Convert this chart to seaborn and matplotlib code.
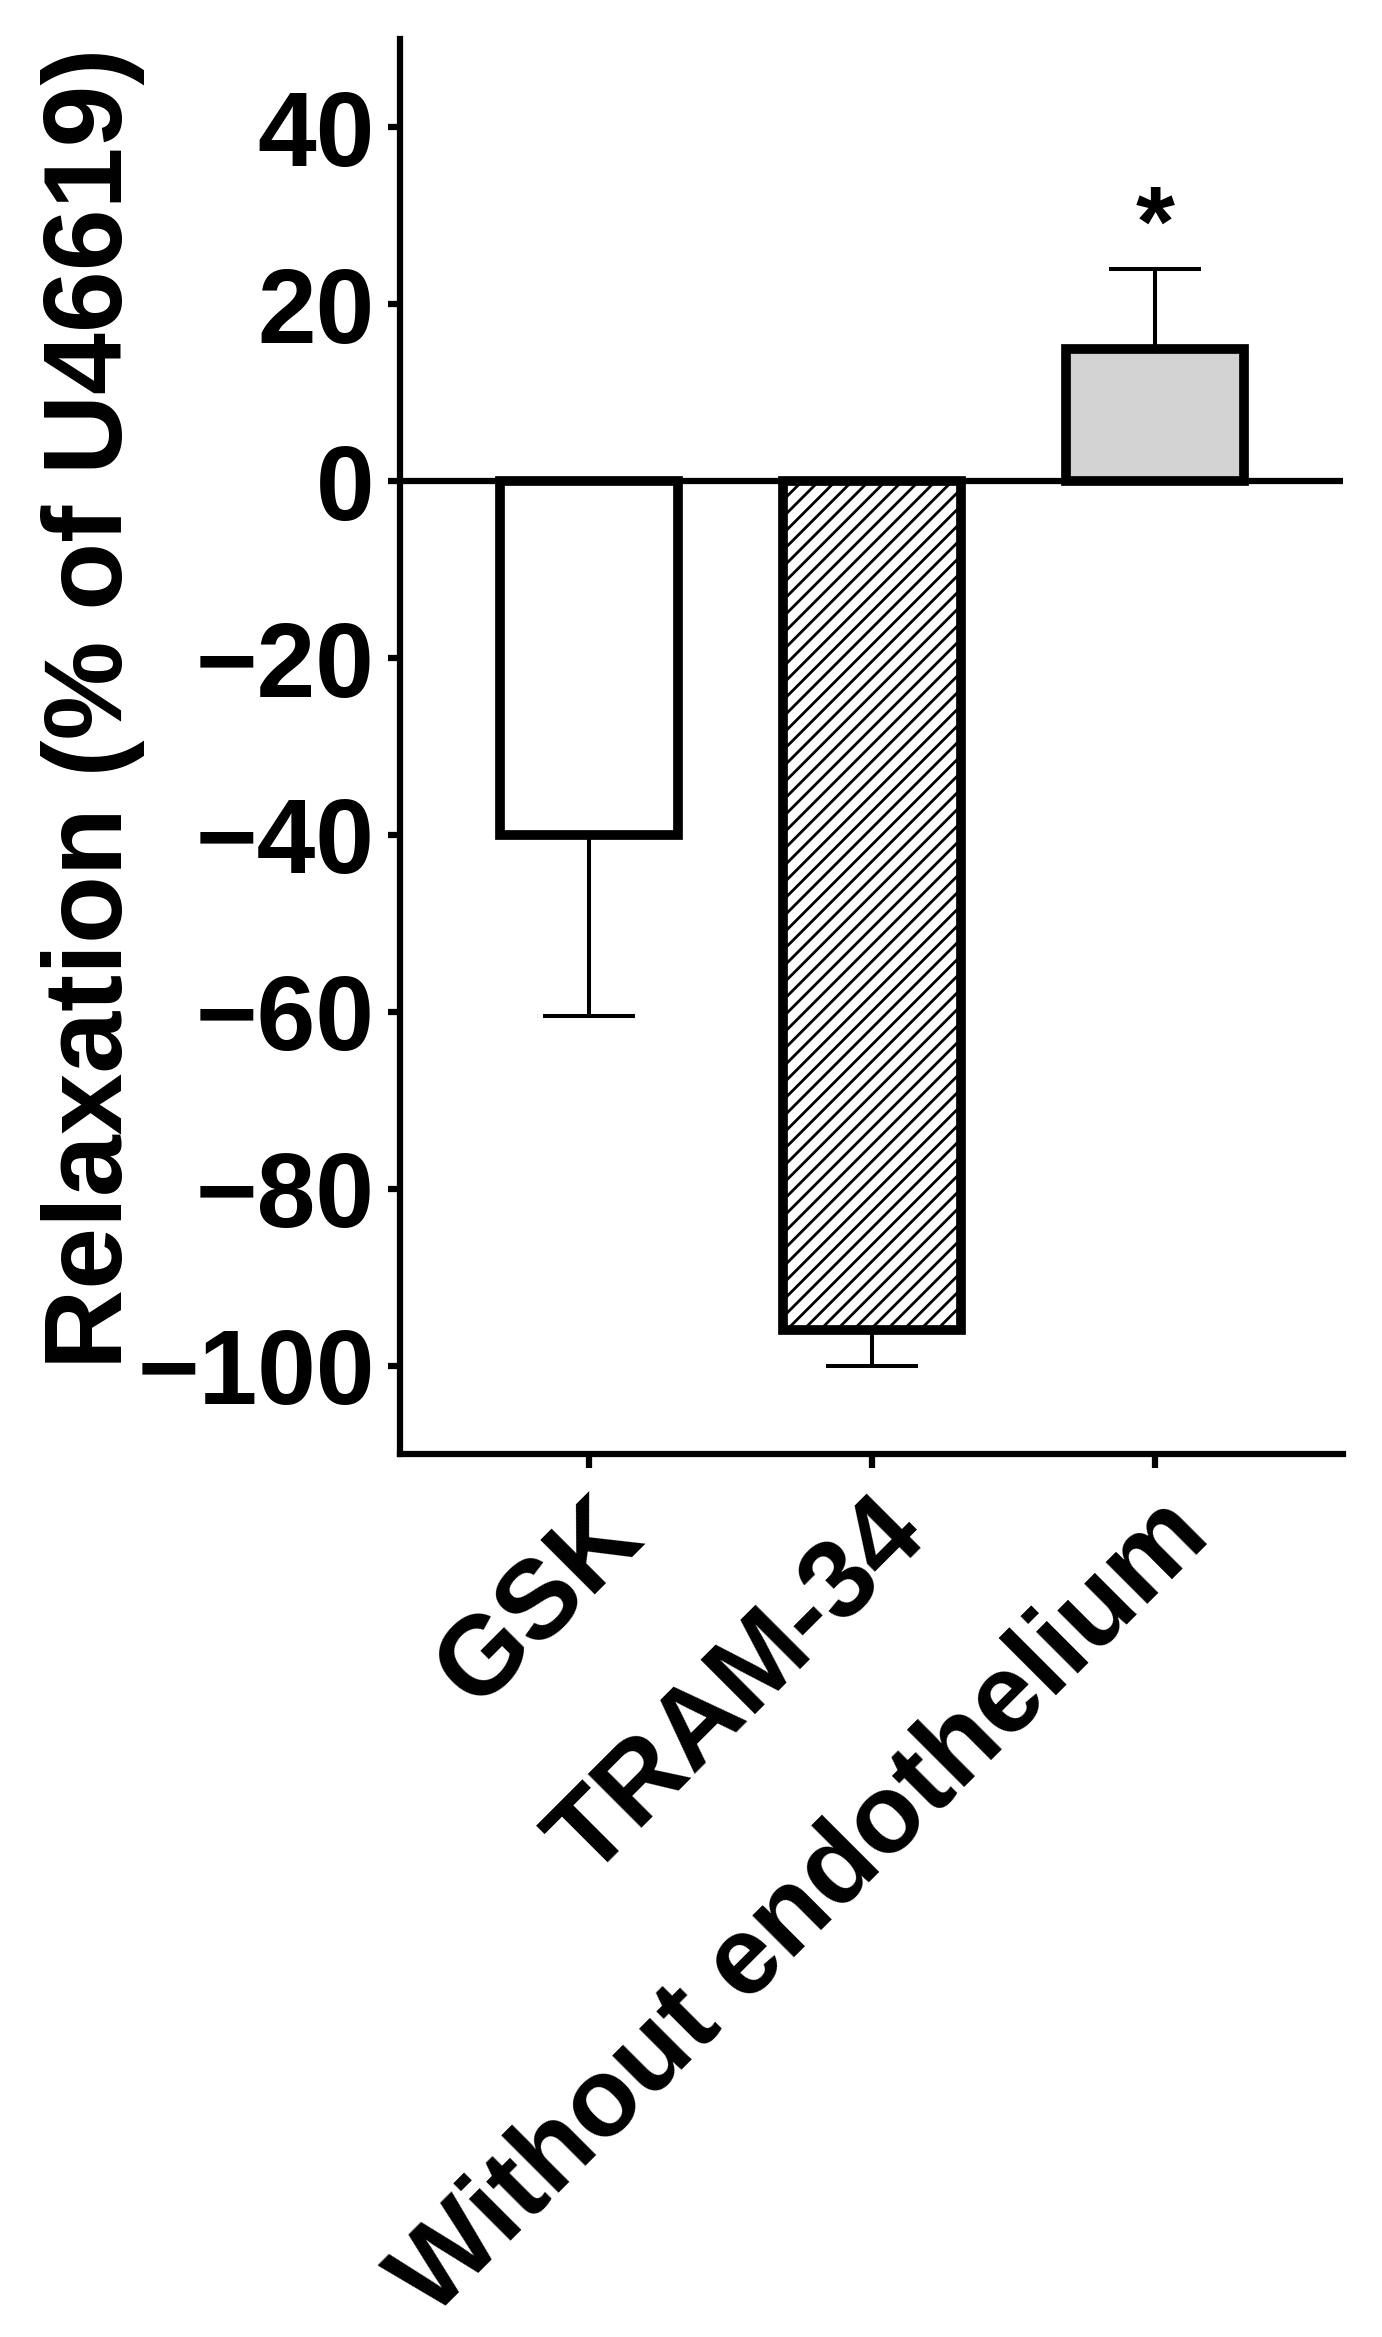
import matplotlib
import numpy as np
import pandas as pd
import seaborn as sns
from matplotlib import pyplot as plt

matplotlib.use("Agg")

groups = ["GSK", "TRAM-34", "Without endothelium"]
means = [-40, -96, 15]
sem = [20.5, 4, 9]
fills = ["white", "white", "#d3d3d3"]
hatches = ["", "//", ""]
yticks = [-100, -80, -60, -40, -20, 0, 20, 40]

sns.set_theme(style="ticks")
plt.rcParams["font.family"] = ["Liberation Sans", "DejaVu Sans"]
plt.rcParams["font.weight"] = "bold"
plt.rcParams["hatch.linewidth"] = 2.0
for k in ["text.color", "axes.labelcolor", "axes.edgecolor", "xtick.color", "ytick.color"]:
    plt.rcParams[k] = "black"

df = pd.DataFrame({"group": groups, "value": means})

fig = plt.figure(figsize=(13.82, 23.37), dpi=100)
ax = fig.add_axes([0.2894, 0.3778, 0.6824, 0.6055])

sns.barplot(data=df, x="group", y="value", hue="group", palette=fills,
            width=0.63, edgecolor="black", linewidth=7, legend=False, ax=ax)
for patch, h in zip(ax.patches, hatches):
    patch.set_hatch(h)
    patch.set_zorder(3)

# one-sided SEM: away from zero
vals = np.array(means, dtype=float)
err = np.array(sem, dtype=float)
lower = np.where(vals < 0, err, 0)
upper = np.where(vals > 0, err, 0)
ax.errorbar(np.arange(len(groups)), vals, yerr=[lower, upper], fmt="none",
            ecolor="black", elinewidth=2.9, capsize=33, capthick=2.9, zorder=1)

ax.axhline(0, color="black", lw=4.5, zorder=4)

# significance mark
ax.text(2, means[2] + sem[2] + 4.5, "*", ha="center", va="center",
        fontsize=72, fontweight="bold")

ax.set_xlim(-0.668, 2.664)
ax.set_ylim(-110, 50)
ax.set_yticks(yticks)
ax.set_yticklabels([f"{t}".replace("-", "\u2212") for t in yticks])
sns.despine(ax=ax)
for s in ["left", "bottom"]:
    ax.spines[s].set_linewidth(4.5)

ax.tick_params(axis="y", length=9, width=4.5, pad=9, labelsize=76)
ax.tick_params(axis="x", length=10, width=4.5, pad=10, labelsize=80)
plt.setp(ax.get_xticklabels(), rotation=45, ha="right", rotation_mode="anchor")

ax.set_xlabel("")
ax.set_ylabel("Relaxation (% of U46619)", fontsize=80, fontweight="bold")
ax.yaxis.set_label_coords(-0.27, 0.527)

fig.savefig("out.png", dpi=100)
